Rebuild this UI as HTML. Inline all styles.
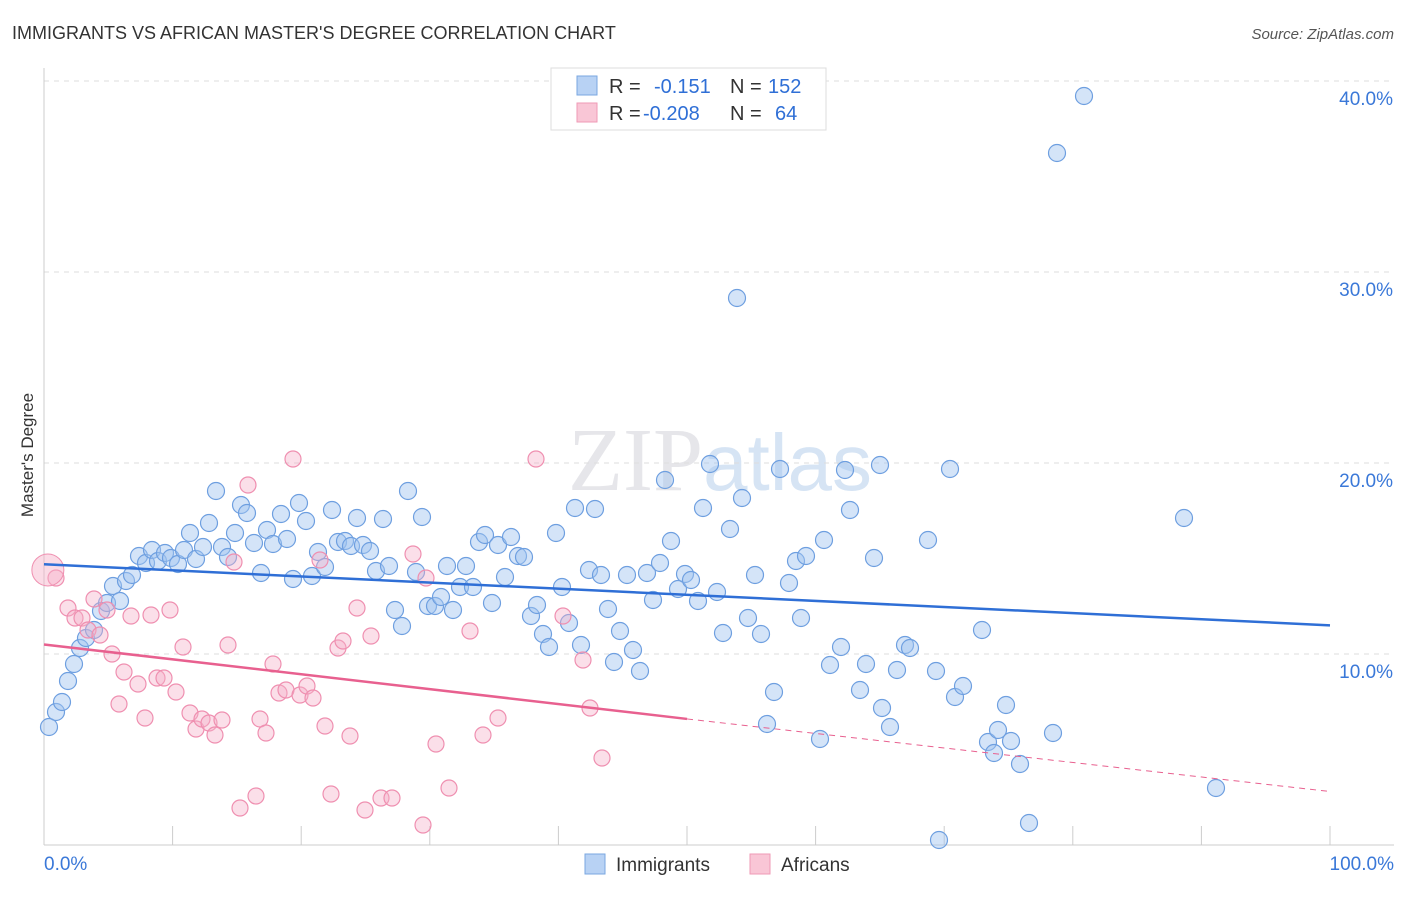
<!DOCTYPE html>
<html><head><meta charset="utf-8"><style>
body{margin:0;background:#fff;font-family:"Liberation Sans",sans-serif;}
</style></head><body>
<svg id="c" width="1406" height="892" xmlns="http://www.w3.org/2000/svg" font-family="Liberation Sans, sans-serif">
<text x="12" y="39" font-size="18" fill="#333">IMMIGRANTS VS AFRICAN MASTER'S DEGREE CORRELATION CHART</text>
<text x="1394" y="39" font-size="15" fill="#555" text-anchor="end" font-style="italic">Source: ZipAtlas.com</text>
<text x="720" y="490" font-size="90" fill="#e6e6ea" text-anchor="middle" font-family="Liberation Serif, serif">ZIP<tspan fill="#d6e4f4" font-family="Liberation Sans, sans-serif" font-size="80">atlas</tspan></text>
<text transform="translate(33,455) rotate(-90)" font-size="17" fill="#333" text-anchor="middle">Master's Degree</text>
<g id="grid"></g><g id="marks"></g>
<g>
<rect x="551" y="68" width="275" height="62" fill="#fff" stroke="#ddd"/>
<rect x="577" y="76" width="20" height="19" fill="#b8d2f4" stroke="#7aa7e0"/>
<rect x="577" y="103" width="20" height="19" fill="#f9c6d6" stroke="#ef9ab6"/>
<text x="609" y="93" font-size="20" fill="#333">R = <tspan fill="#2f6fd6" x="654">-0.151</tspan><tspan x="730" fill="#333">N = </tspan><tspan fill="#2f6fd6" x="768">152</tspan></text>
<text x="609" y="120" font-size="20" fill="#333">R = <tspan fill="#2f6fd6" x="643">-0.208</tspan><tspan x="730" fill="#333">N = </tspan><tspan fill="#2f6fd6" x="775">64</tspan></text>
</g>
<g>
<rect x="585" y="854" width="20" height="20" fill="#b8d2f4" stroke="#7aa7e0"/>
<text x="616" y="871" font-size="19" fill="#333">Immigrants</text>
<rect x="750" y="854" width="20" height="20" fill="#f9c6d6" stroke="#ef9ab6"/>
<text x="781" y="871" font-size="19" fill="#333">Africans</text>
</g>
</svg>
<script>
const yTicks=[10,20,30,40];
const yTickLabels=["10.0%","20.0%","30.0%","40.0%"];
const bluePts=[[49,727],[56,712],[62,702],[68,681],[74,664],[80,648],[86,638],[94,630],[101,611],[107,603],[113,586],[120,601],[126,581],[132,575],[139,556],[146,563],[152,550],[158,561],[165,553],[171,558],[178,564],[184,550],[190,533],[196,559],[203,547],[209,523],[216,491],[222,547],[228,557],[235,533],[241,505],[247,513],[254,543],[261,573],[267,530],[273,544],[281,514],[287,539],[293,579],[299,503],[306,521],[312,576],[318,552],[325,567],[332,510],[338,542],[345,541],[351,546],[357,518],[363,545],[370,551],[376,571],[383,519],[389,566],[395,610],[402,626],[408,491],[416,572],[422,517],[428,606],[435,606],[441,597],[447,566],[453,610],[460,587],[466,566],[473,587],[479,542],[485,535],[492,603],[498,545],[505,577],[511,537],[518,556],[524,557],[531,616],[537,605],[543,634],[549,647],[556,533],[562,587],[569,623],[575,508],[581,645],[589,570],[595,509],[601,575],[608,609],[614,662],[620,631],[627,575],[633,650],[640,671],[647,573],[653,600],[660,563],[665,480],[671,541],[678,589],[685,574],[691,580],[698,601],[703,508],[710,464],[717,592],[723,633],[730,529],[737,298],[742,498],[748,618],[755,575],[761,634],[767,724],[774,692],[780,469],[789,583],[796,561],[801,618],[806,556],[820,739],[824,540],[830,665],[841,647],[845,470],[850,510],[860,690],[866,664],[874,558],[880,465],[882,708],[890,727],[897,670],[905,645],[910,648],[928,540],[936,671],[939,840],[950,469],[955,697],[963,686],[982,630],[988,742],[994,753],[998,730],[1006,705],[1011,741],[1020,764],[1029,823],[1053,733],[1057,153],[1084,96],[1184,518],[1216,788]];
const pinkPts=[[56,578],[68,608],[75,618],[82,618],[88,630],[94,599],[100,635],[107,610],[112,654],[119,704],[124,672],[131,616],[138,684],[145,718],[151,615],[157,678],[164,678],[170,610],[176,692],[183,647],[190,713],[196,729],[202,719],[209,723],[215,735],[222,720],[228,645],[234,562],[240,808],[248,485],[256,796],[260,719],[266,733],[273,664],[279,693],[286,690],[293,459],[300,695],[307,686],[313,698],[320,560],[325,726],[331,794],[338,648],[343,641],[350,736],[357,608],[365,810],[371,636],[381,798],[392,798],[413,554],[423,825],[426,578],[436,744],[449,788],[470,631],[483,735],[498,718],[536,459],[563,616],[583,660],[590,708],[602,758]];
// convert pixel estimates to data values (x %, y %)
const X0=44,X1=1330,Y0=845,PY=19.1;
const blueData=bluePts.map(p=>[(p[0]-X0)/(X1-X0)*100,(Y0-p[1])/PY]);
const pinkData=pinkPts.map(p=>[(p[0]-X0)/(X1-X0)*100,(Y0-p[1])/PY]);
const blueTrend=[[0,14.7],[100,11.5]];
const pinkTrend=[[0,10.5],[50,6.6],[100,2.8]];
const xs=v=>X0+v/100*(X1-X0), ys=v=>Y0-v*PY;
const NS="http://www.w3.org/2000/svg";
function mk(t,a,parent){const e=document.createElementNS(NS,t);for(const k in a)e.setAttribute(k,a[k]);parent.appendChild(e);return e;}
const grid=document.getElementById('grid'),marks=document.getElementById('marks');
yTicks.forEach((t,i)=>{
 const l=mk('line',{x1:44,x2:1394,y1:ys(t),y2:ys(t),stroke:'#ddd','stroke-dasharray':'5,5'},grid);
 
 
 const tx=mk('text',{x:1393,y:ys(t)+24,'font-size':19,fill:'#3a78d8','text-anchor':'end'},grid);
 tx.textContent=yTickLabels[i];
 
 
});
const ax=mk('line',{x1:44,x2:1394,y1:845,y2:845,stroke:'#ccc'},grid);


const ay=mk('line',{x1:44,x2:44,y1:68,y2:845,stroke:'#ccc'},grid);


for(let i=0;i<=10;i++){const t=mk('line',{x1:xs(i*10),x2:xs(i*10),y1:826,y2:845,stroke:'#ccc'},grid);
 
 }
[["0.0%",44,'start'],["100.0%",1394,'end']].forEach(d=>{const t=mk('text',{x:d[1],y:870,'font-size':19,fill:'#3a78d8','text-anchor':d[2]},grid);t.textContent=d[0];
 
 });
blueData.forEach(d=>{const c=mk('circle',{cx:xs(d[0]),cy:ys(d[1]),r:8.5,fill:'rgba(160,196,240,0.45)',stroke:'#6e9fe0','stroke-width':1.2},marks);
 
 });
pinkData.forEach(d=>{const c=mk('circle',{cx:xs(d[0]),cy:ys(d[1]),r:8,fill:'rgba(246,176,200,0.4)',stroke:'#ef8fb0','stroke-width':1.2},marks);
 
 });
const big=mk('circle',{cx:xs(0.3),cy:ys(14.4),r:16,fill:'rgba(246,176,200,0.45)',stroke:'#ef8fb0'},marks);


const bl=mk('line',{x1:xs(blueTrend[0][0]),y1:ys(blueTrend[0][1]),x2:xs(blueTrend[1][0]),y2:ys(blueTrend[1][1]),stroke:'#2f6fd6','stroke-width':2.5},marks);


const pl=mk('line',{x1:xs(pinkTrend[0][0]),y1:ys(pinkTrend[0][1]),x2:xs(pinkTrend[1][0]),y2:ys(pinkTrend[1][1]),stroke:'#e8608f','stroke-width':2.5},marks);


const pd=mk('line',{x1:xs(pinkTrend[1][0]),y1:ys(pinkTrend[1][1]),x2:xs(pinkTrend[2][0]),y2:ys(pinkTrend[2][1]),stroke:'#e8608f','stroke-width':1,'stroke-dasharray':'6,5'},marks);


</script>
</body></html>
